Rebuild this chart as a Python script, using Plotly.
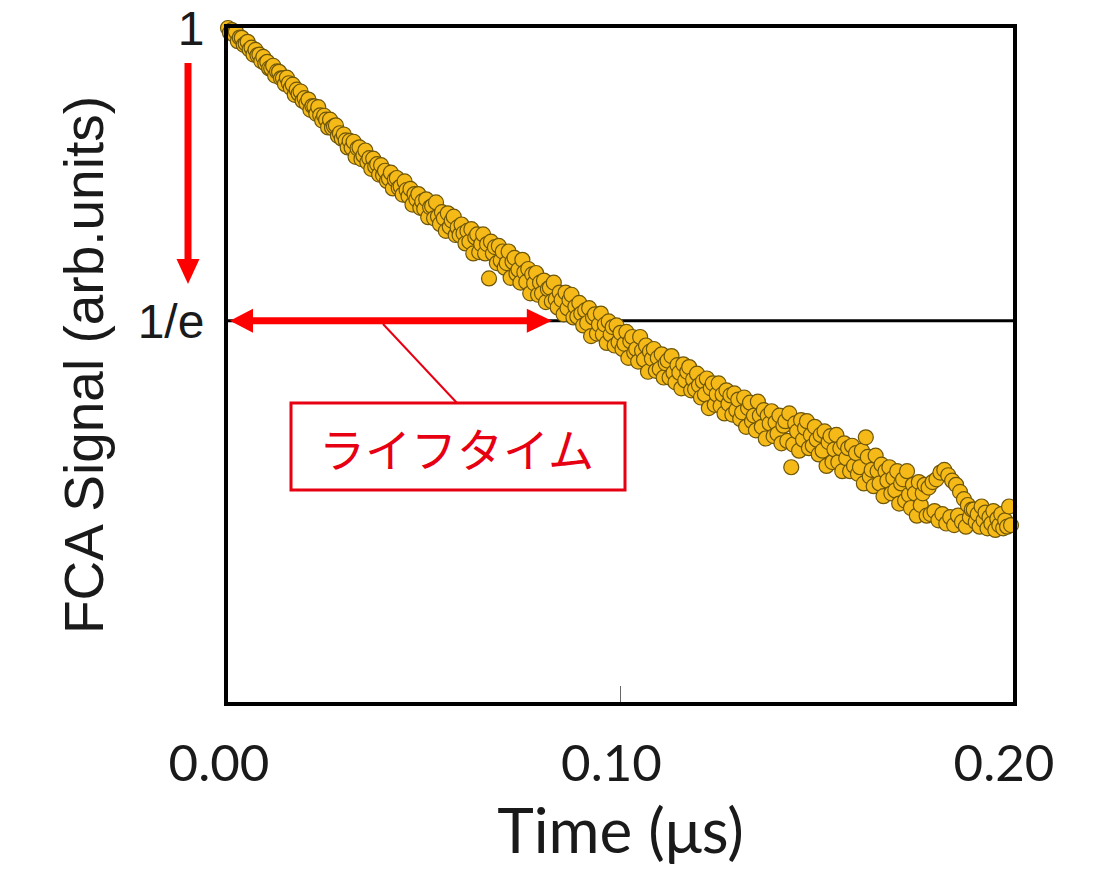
import math
import plotly.graph_objects as go

# ---------------- data ----------------
TIME_STEP_US = 0.0005
SIGNAL = [
    1.000, 0.984, 0.993, 0.978, 0.987, 0.956, 0.968, 0.967, 0.944, 0.948, 0.954, 0.929, 0.935, 0.913, 0.928, 0.911, 0.913, 0.893, 0.906, 0.886,
    0.891, 0.871, 0.871, 0.879, 0.850, 0.862, 0.861, 0.842, 0.842, 0.826, 0.844, 0.828, 0.815, 0.824, 0.796, 0.810, 0.799, 0.805, 0.780, 0.787,
    0.773, 0.783, 0.756, 0.766, 0.765, 0.746, 0.763, 0.742, 0.729, 0.741, 0.731, 0.712, 0.731, 0.711, 0.715, 0.717, 0.692, 0.698, 0.685, 0.695,
    0.681, 0.665, 0.680, 0.664, 0.678, 0.644, 0.663, 0.665, 0.639, 0.647, 0.658, 0.632, 0.641, 0.618, 0.640, 0.623, 0.628, 0.606, 0.626, 0.605,
    0.614, 0.593, 0.598, 0.610, 0.578, 0.596, 0.599, 0.579, 0.582, 0.566, 0.592, 0.575, 0.563, 0.577, 0.547, 0.567, 0.557, 0.567, 0.541, 0.553,
    0.539, 0.557, 0.524, 0.542, 0.544, 0.522, 0.551, 0.525, 0.512, 0.533, 0.522, 0.500, 0.531, 0.507, 0.518, 0.525, 0.493, 0.506, 0.493, 0.511,
    0.496, 0.479, 0.500, 0.482, 0.503, 0.463, 0.489, 0.494, 0.465, 0.478, 0.494, 0.463, 0.478, 0.425, 0.482, 0.463, 0.473, 0.448, 0.475, 0.452,
    0.466, 0.441, 0.448, 0.466, 0.426, 0.450, 0.456, 0.432, 0.438, 0.419, 0.453, 0.434, 0.420, 0.439, 0.404, 0.431, 0.418, 0.433, 0.402, 0.419,
    0.404, 0.422, 0.392, 0.410, 0.412, 0.393, 0.419, 0.396, 0.385, 0.405, 0.395, 0.376, 0.405, 0.384, 0.395, 0.402, 0.372, 0.386, 0.373, 0.391,
    0.377, 0.362, 0.381, 0.365, 0.384, 0.349, 0.372, 0.376, 0.352, 0.363, 0.377, 0.351, 0.363, 0.341, 0.367, 0.351, 0.360, 0.338, 0.362, 0.342,
    0.353, 0.334, 0.340, 0.354, 0.324, 0.343, 0.348, 0.330, 0.334, 0.320, 0.348, 0.332, 0.322, 0.338, 0.309, 0.331, 0.323, 0.334, 0.310, 0.324,
    0.312, 0.328, 0.303, 0.318, 0.321, 0.303, 0.326, 0.308, 0.298, 0.316, 0.308, 0.292, 0.317, 0.300, 0.309, 0.314, 0.290, 0.301, 0.291, 0.307,
    0.295, 0.283, 0.299, 0.286, 0.302, 0.273, 0.292, 0.297, 0.276, 0.286, 0.297, 0.275, 0.286, 0.268, 0.290, 0.277, 0.285, 0.267, 0.287, 0.271,
    0.281, 0.263, 0.269, 0.283, 0.256, 0.273, 0.278, 0.261, 0.266, 0.253, 0.279, 0.266, 0.256, 0.271, 0.246, 0.266, 0.259, 0.270, 0.248, 0.260,
    0.250, 0.266, 0.242, 0.257, 0.261, 0.244, 0.268, 0.223, 0.241, 0.259, 0.252, 0.236, 0.262, 0.245, 0.255, 0.261, 0.238, 0.249, 0.240, 0.256,
    0.245, 0.233, 0.249, 0.236, 0.252, 0.224, 0.243, 0.248, 0.227, 0.237, 0.249, 0.227, 0.238, 0.220, 0.242, 0.230, 0.238, 0.220, 0.240, 0.224,
    0.234, 0.218, 0.223, 0.236, 0.211, 0.247, 0.231, 0.216, 0.221, 0.209, 0.232, 0.220, 0.211, 0.225, 0.202, 0.220, 0.213, 0.223, 0.204, 0.215,
    0.206, 0.220, 0.197, 0.211, 0.214, 0.199, 0.220, 0.203, 0.194, 0.210, 0.204, 0.189, 0.212, 0.196, 0.204, 0.210, 0.189, 0.208, 0.190, 0.212,
    0.192, 0.214, 0.186, 0.219, 0.190, 0.221, 0.184, 0.217, 0.188, 0.213, 0.183, 0.210, 0.189, 0.205, 0.185, 0.200, 0.182, 0.196, 0.188, 0.193,
    0.193, 0.185, 0.190, 0.182, 0.195, 0.186, 0.191, 0.181, 0.188, 0.184, 0.192, 0.180, 0.187, 0.183, 0.190, 0.181, 0.186, 0.182, 0.195, 0.183,
]
X_RANGE = [0.0, 0.2]
X_TICKS = [0.0, 0.1, 0.2]
X_TICK_TEXT = ["0.00", "0.10", "0.20"]
Y_RANGE_LOG10 = [-1.0, 0.0]
Y_TICKS = [1.0, 1.0 / math.e]
Y_TICK_TEXT = ["1", "1/e"]
LIFETIME_US = 0.0825
LABEL_LIFETIME = "ライフタイム"

TIME = [round(i * TIME_STEP_US, 5) for i in range(len(SIGNAL))]

# ---------------- layout geometry (reference pixel coordinates) ----------------
W, H = 1094, 874
PL, PR, PT, PB = 228, 1013, 28, 702
RED = "#FF0000"
BOX_RED = "#E60012"
INK = "#1a1a1a"


def px_x(px):
    return (px - PL) / (PR - PL)


def px_y(py):
    return (PB - py) / (PB - PT)


y_e = (math.log10(1.0 / math.e) - Y_RANGE_LOG10[0]) / (Y_RANGE_LOG10[1] - Y_RANGE_LOG10[0])

fig = go.Figure()

# 1/e reference line
fig.add_trace(go.Scatter(
    x=X_RANGE, y=[1.0 / math.e, 1.0 / math.e], mode="lines",
    line=dict(color="black", width=3), hoverinfo="skip", showlegend=False,
))

# data
fig.add_trace(go.Scatter(
    x=TIME, y=SIGNAL, mode="markers", cliponaxis=False, showlegend=False,
    marker=dict(size=15, color="rgb(246,186,24)",
                line=dict(color="rgb(110,86,8)", width=1.2)),
))

shapes = []
# down arrow (1 -> 1/e)
ax_x = px_x(188)
shapes.append(dict(type="line", xref="paper", yref="paper",
                   x0=ax_x, x1=ax_x, y0=px_y(63), y1=px_y(262),
                   line=dict(color=RED, width=7)))
hw = 11.5 / (PR - PL)
shapes.append(dict(type="path", xref="paper", yref="paper",
                   path=f"M {ax_x - hw} {px_y(259)} L {ax_x + hw} {px_y(259)} L {ax_x} {px_y(284)} Z",
                   fillcolor=RED, line=dict(width=0)))

# double arrow along 1/e
head_len = 25 / (PR - PL) * (X_RANGE[1] - X_RANGE[0])
hh = 12 / (PB - PT)
shapes.append(dict(type="line", xref="x", yref="paper",
                   x0=X_RANGE[0] + head_len * 0.9, x1=LIFETIME_US - head_len * 0.9,
                   y0=y_e, y1=y_e, line=dict(color=RED, width=7)))
shapes.append(dict(type="path", xref="x", yref="paper",
                   path=(f"M {X_RANGE[0] + 0.0005} {y_e} L {X_RANGE[0] + head_len} {y_e + hh} "
                         f"L {X_RANGE[0] + head_len} {y_e - hh} Z"),
                   fillcolor=RED, line=dict(width=0)))
shapes.append(dict(type="path", xref="x", yref="paper",
                   path=(f"M {LIFETIME_US} {y_e} L {LIFETIME_US - head_len} {y_e + hh} "
                         f"L {LIFETIME_US - head_len} {y_e - hh} Z"),
                   fillcolor=RED, line=dict(width=0)))

# connector + label box
shapes.append(dict(type="line", xref="paper", yref="paper",
                   x0=px_x(383), y0=px_y(324), x1=px_x(457), y1=px_y(403),
                   line=dict(color=BOX_RED, width=2)))
shapes.append(dict(type="rect", xref="paper", yref="paper",
                   x0=px_x(291), x1=px_x(625), y0=px_y(490), y1=px_y(403),
                   fillcolor="white", line=dict(color=BOX_RED, width=3)))

fig.update_layout(
    width=W, height=H,
    margin=dict(l=PL, r=W - PR, t=PT, b=H - PB, autoexpand=False),
    paper_bgcolor="white", plot_bgcolor="white",
    shapes=shapes,
    annotations=[dict(
        x=px_x(456), y=px_y(447), xref="paper", yref="paper",
        text=LABEL_LIFETIME, showarrow=False,
        font=dict(family="Noto Sans CJK JP", size=46, color=BOX_RED),
        xanchor="center", yanchor="middle",
    )],
    xaxis=dict(
        range=X_RANGE, tickvals=X_TICKS, ticktext=X_TICK_TEXT,
        ticks="inside", ticklen=16, tickwidth=1, tickcolor="#666",
        showline=True, linecolor="black", linewidth=4, mirror=True,
        showgrid=False, zeroline=False,
        tickfont=dict(family="Lato", size=51, color=INK),
        ticklabelstandoff=14, ticklabelshift=-9,
        title=dict(text="Time (μs)", standoff=9,
                   font=dict(family="Lato", size=62, color=INK)),
        automargin=False,
    ),
    yaxis=dict(
        type="log", range=Y_RANGE_LOG10, tickvals=Y_TICKS, ticktext=Y_TICK_TEXT,
        ticks="", showline=True, linecolor="black", linewidth=4, mirror=True,
        showgrid=False, zeroline=False,
        tickfont=dict(family="Liberation Sans", size=48, color=INK),
        ticklabelstandoff=10, ticklabeloverflow="allow",
        title=dict(text="FCA Signal (arb.units)", standoff=17,
                   font=dict(family="Liberation Sans", size=55, color=INK)),
        automargin=False,
    ),
)

fig.write_html("out.html", config={"displayModeBar": False},
               post_script="document.body.style.margin = '0';")
